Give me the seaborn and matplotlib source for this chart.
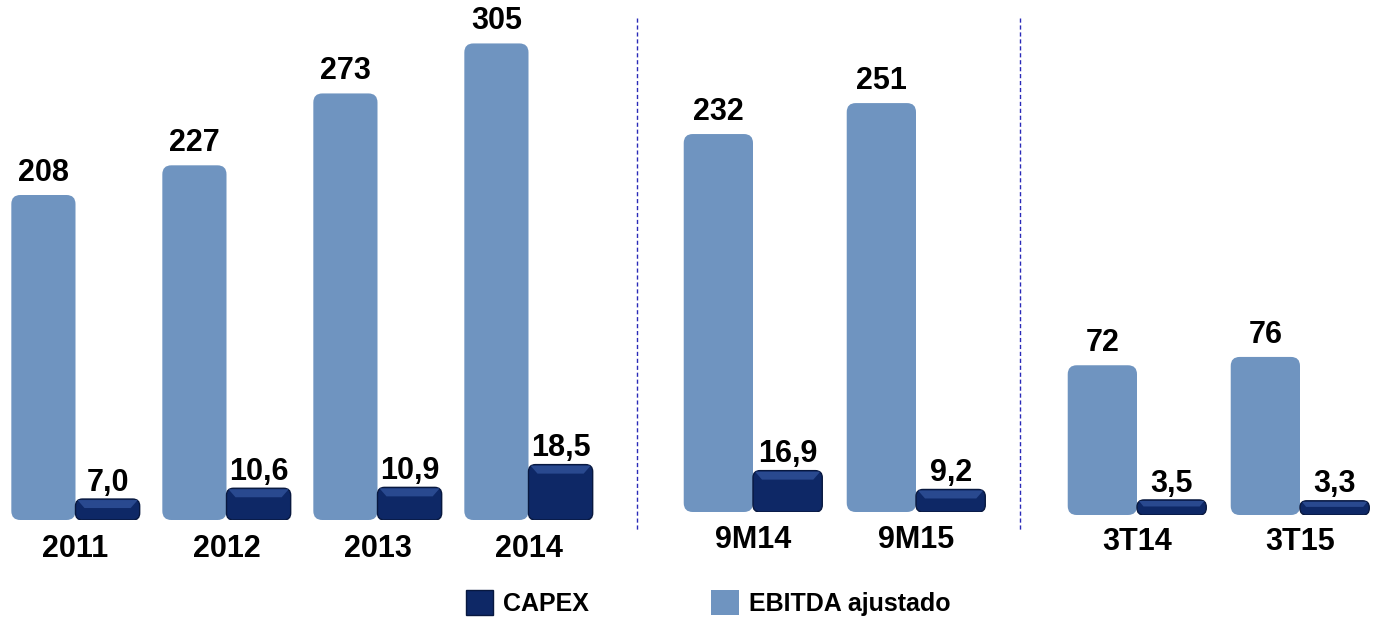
import pandas as pd
import numpy as np
import seaborn as sns
import matplotlib.pyplot as plt
from matplotlib.patches import FancyBboxPatch, Patch, Polygon
from matplotlib.lines import Line2D

# ========== 数据 ==========
periodos_anual = ['2011', '2012', '2013', '2014']
ebitda_anual = [208, 227, 273, 305]
capex_anual = [7.0, 10.6, 10.9, 18.5]

periodos_9m = ['9M14', '9M15']
ebitda_9m = [232, 251]
capex_9m = [16.9, 9.2]

periodos_3t = ['3T14', '3T15']
ebitda_3t = [72, 76]
capex_3t = [3.5, 3.3]

COR_EBITDA = '#6F94C0'
COR_CAPEX = '#0E2866'
ordem = ['EBITDA ajustado', 'CAPEX']
paleta = {'EBITDA ajustado': COR_EBITDA, 'CAPEX': COR_CAPEX}

sns.set_theme(style='white')
plt.rcParams['font.family'] = ['Liberation Sans', 'DejaVu Sans']
plt.rcParams['text.color'] = 'black'
plt.rcParams['xtick.color'] = 'black'

W, H = 1379, 619
fig = plt.figure(figsize=(W / 100, H / 100), dpi=100)


def arredondar(ax, raio_px, bisel=False):
    """troca os retângulos por caixas com cantos arredondados"""
    x0, y0 = ax.transData.transform((0, 0))
    x1, y1 = ax.transData.transform((1, 1))
    sx, sy = x1 - x0, y1 - y0
    for p in list(ax.patches):
        h = p.get_height()
        if np.isnan(h) or h <= 0:
            continue
        x, y, w = p.get_x(), p.get_y(), p.get_width()
        r_px = min(raio_px, h * sy / 2 - 0.5)
        caixa = FancyBboxPatch((x, y), w, h,
                               boxstyle=f'round,pad=0,rounding_size={r_px / sx}',
                               mutation_aspect=sx / sy,
                               facecolor=p.get_facecolor(),
                               edgecolor='#08183f' if bisel else 'none',
                               linewidth=1.0, zorder=p.get_zorder())
        p.set_visible(False)
        ax.add_patch(caixa)
        if bisel:
            # faixa superior mais clara, imitando o relevo do original
            d_px = min(9, h * sy / 2 - 1)
            dx, dy = d_px / sx, d_px / sy
            topo = Polygon([(x + 2 / sx, y + h - 1 / sy),
                            (x + w - 2 / sx, y + h - 1 / sy),
                            (x + w - dx, y + h - dy), (x + dx, y + h - dy)],
                           closed=True, facecolor='#29498f', edgecolor='none',
                           zorder=p.get_zorder() + 0.1)
            ax.add_patch(topo)


def painel(pos, periodos, ebitda, capex, ymax_e, ymax_c, pad_lbl):
    ax = fig.add_axes(pos)
    df_e = pd.DataFrame({'periodo': periodos, 'valor': ebitda, 'serie': 'EBITDA ajustado'})
    df_c = pd.DataFrame({'periodo': periodos, 'valor': capex, 'serie': 'CAPEX'})

    sns.barplot(data=df_e, x='periodo', y='valor', hue='serie', hue_order=ordem,
                palette=paleta, width=0.85, dodge=True, saturation=1,
                legend=False, ax=ax)
    ax2 = ax.twinx()
    sns.barplot(data=df_c, x='periodo', y='valor', hue='serie', hue_order=ordem,
                palette=paleta, width=0.85, dodge=True, saturation=1,
                legend=False, ax=ax2)

    n = len(periodos)
    for a, ymax in ((ax, ymax_e), (ax2, ymax_c)):
        a.set_xlim(-0.5, n - 0.5)
        a.set_ylim(0, ymax)
        a.set_yticks([])
        a.set_ylabel('')
        a.set_xlabel('')
        for s in a.spines.values():
            s.set_visible(False)

    ax.set_xticks(range(n))
    ax.set_xticklabels(periodos, fontsize=22, fontweight='bold')
    ax.tick_params(axis='x', length=0, pad=pad_lbl)
    ax2.tick_params(axis='x', length=0, labelbottom=False)

    # rótulos de valor
    for a, fmt, pad in ((ax, lambda v: f'{v:.0f}', 5),
                        (ax2, lambda v: f'{v:.1f}'.replace('.', ','), 1)):
        for c in a.containers:
            alturas = [b.get_height() for b in c]
            if all(np.isnan(alturas)):
                continue
            a.bar_label(c, labels=[fmt(v) for v in alturas], padding=pad,
                        fontsize=22, fontweight='bold')

    arredondar(ax, 9)
    arredondar(ax2, 7, bisel=True)
    return ax


painel([0 / W, (H - 520) / H, 604 / W, 500 / H],
       periodos_anual, ebitda_anual, capex_anual, 320, 167, 10)
painel([671.5 / W, (H - 512) / H, 326 / W, 492 / H],
       periodos_9m, ebitda_9m, capex_9m, 302, 201, 9)
painel([1055.5 / W, (H - 515) / H, 326 / W, 495 / H],
       periodos_3t, ebitda_3t, capex_3t, 238, 115, 9)

# separadores tracejados
for xs in (637, 1020):
    fig.add_artist(Line2D([xs / W, xs / W], [1 - 18 / H, 1 - 530 / H],
                          transform=fig.transFigure, color='#2a2ab8',
                          linestyle=(0, (3, 2)), linewidth=1))

# legenda
alcas = [Patch(facecolor=COR_CAPEX, edgecolor='#08183f', label='CAPEX'),
         Patch(facecolor=COR_EBITDA, edgecolor='none', label='EBITDA ajustado')]
fig.legend(handles=alcas, loc='center', bbox_to_anchor=(708 / W, 1 - 603 / H),
           ncol=2, frameon=False, prop={'size': 18, 'weight': 'bold'},
           handlelength=1.1, handleheight=1.15, handletextpad=0.4,
           columnspacing=4.9)

plt.savefig('out.png', dpi=100)
plt.close()
